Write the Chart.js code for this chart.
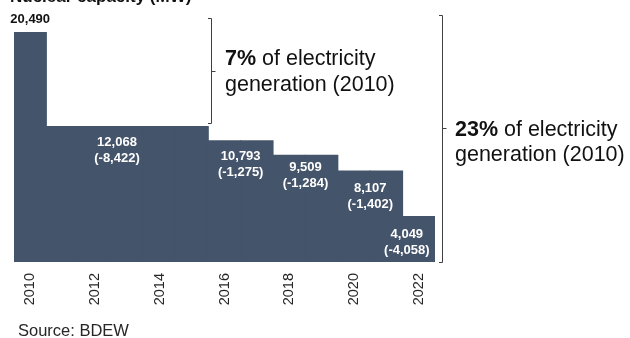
<!DOCTYPE html>
<html>
<head>
<meta charset="utf-8">
<script src="https://cdn.jsdelivr.net/npm/chart.js@4"></script>
<style>
  body { margin: 0; background: #fff; }
  canvas { display: block; }
</style>
</head>
<body>
<canvas id="myChart" width="630" height="338"></canvas>
<script>
// installed nuclear capacity, MW, one bar per year
var years = ['2010', '2011', '2012', '2013', '2014', '2015', '2016',
             '2017', '2018', '2019', '2020', '2021', '2022'];
var capacity = [20490, 12068, 12068, 12068, 12068, 12068, 10793,
                10793, 9509, 9509, 8107, 8107, 4049];

// step labels: value after each shutdown round and the drop
var stepValues = [20490, 12068, 10793, 9509, 8107, 4049];
var stepChanges = [null, -8422, -1275, -1284, -1402, -4058];

var fmt = function (v) { return v.toLocaleString('en-US'); };
var FONT = '"Liberation Sans", Arial, sans-serif';

// where each step label sits (category index) and its offset from the bar top
var labelAt = [0, 2.68, 6.5, 8.5, 10.5, 11.63];
var labelDy = [-13, 16, 16, 12, 17, 17.5];

var stepLabels = {
    id: 'stepLabels',
    afterDatasetsDraw: function (chart) {
        var ctx = chart.ctx;
        var x = chart.scales.x, y = chart.scales.y;
        ctx.save();
        ctx.textAlign = 'center';
        ctx.textBaseline = 'middle';
        ctx.font = 'bold 13px ' + FONT;
        stepValues.forEach(function (v, i) {
            var px = x.getPixelForValue(labelAt[i]);
            var py = y.getPixelForValue(v) + labelDy[i];
            if (stepChanges[i] === null) {
                ctx.fillStyle = '#111';
                ctx.fillText(fmt(v), px, py);
            } else {
                ctx.fillStyle = '#fff';
                ctx.fillText(fmt(v), px, py);
                ctx.fillText('(' + fmt(stepChanges[i]) + ')', px, py + 16);
            }
        });
        ctx.restore();
    }
};

// curly brackets, side notes, source and the clipped heading
var notes = {
    id: 'notes',
    afterDraw: function (chart) {
        var ctx = chart.ctx;
        var a = chart.chartArea;
        ctx.save();
        ctx.strokeStyle = '#404040';
        ctx.lineWidth = 1;

        function brace(x, top, bottom, mid) {
            ctx.beginPath();
            ctx.moveTo(x - 3.5, top);
            ctx.lineTo(x, top);
            ctx.lineTo(x, bottom);
            ctx.lineTo(x - 3.5, bottom);
            ctx.moveTo(x, mid);
            ctx.lineTo(x + 4, mid);
            ctx.stroke();
        }
        brace(211.5, 18.5, 123.5, 71.5);
        brace(a.right + 7.5, 15.5, a.bottom + 0.5, 128.5);

        function note(x, y, bold, rest) {
            ctx.font = 'bold 21.5px ' + FONT;
            ctx.fillText(bold, x, y);
            var w = ctx.measureText(bold).width;
            ctx.font = '21.5px ' + FONT;
            ctx.fillText(rest, x + w, y);
        }
        ctx.fillStyle = '#111';
        ctx.textBaseline = 'alphabetic';
        ctx.textAlign = 'left';
        note(225, 65, '7%', ' of electricity');
        ctx.font = '21.5px ' + FONT;
        ctx.fillText('generation (2010)', 225, 91);
        note(455, 136, '23%', ' of electricity');
        ctx.font = '21.5px ' + FONT;
        ctx.fillText('generation (2010)', 455, 161);

        ctx.fillStyle = '#262626';
        ctx.font = '16.5px ' + FONT;
        ctx.fillText('Source: BDEW', 18, 336);

        ctx.fillStyle = '#111';
        ctx.font = 'bold 17px ' + FONT;
        ctx.fillText('Nuclear capacity (MW)', 10, 2);
        ctx.restore();
    }
};

var ctx = document.getElementById('myChart').getContext('2d');
var myChart = new Chart(ctx, {
    type: 'bar',
    data: {
        labels: years,
        datasets: [{
            data: capacity,
            backgroundColor: '#44546a',
            borderWidth: 0,
            barPercentage: 1,
            categoryPercentage: 1,
            inflateAmount: 0.5
        }]
    },
    options: {
        responsive: false,
        animation: false,
        layout: { padding: { left: 14, right: 195, top: 32, bottom: 0 } },
        plugins: {
            legend: { display: false },
            tooltip: { enabled: false }
        },
        scales: {
            x: {
                grid: { display: false, drawTicks: false },
                border: { display: false },
                ticks: {
                    autoSkip: false,
                    minRotation: 90,
                    maxRotation: 90,
                    padding: 11,
                    color: '#262626',
                    font: { family: FONT, size: 14.5 },
                    callback: function (val, i) {
                        return i % 2 === 0 ? years[i] : '';
                    }
                },
                afterFit: function (scale) { scale.height = 76; }
            },
            y: {
                display: false,
                min: 0,
                max: 20490
            }
        }
    },
    plugins: [stepLabels, notes]
});
</script>
</body>
</html>
